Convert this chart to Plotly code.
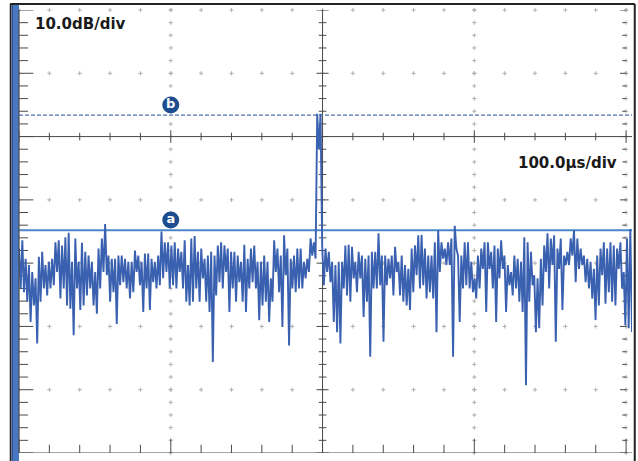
import numpy as np
import plotly.graph_objects as go

# ---------------- data ----------------
t_end_us = 403.9                       # screen spans a sliver past 4 divisions
y_top_db, y_bottom_db = 0.0, -70.0
x_major_us = [0, 100, 200, 300, 400]
y_major_db = [0, -10, -20, -30, -40, -50, -60, -70]
x_minor_step_us = 20
y_minor_step_db = 2

marker_a_db = -34.8
marker_b_db = -16.6
marker_label_t_us = 100
marker_labels = ["a", "b"]

vert_scale_text = "10.0dB/div"
horiz_scale_text = "100.0\u00b5s/div"

trace_q1_db = [
    -37.7, -44.0, -36.4, -44.6, -39.3, -46.1, -40.3, -49.3, -41.4, -46.7,
    -42.4, -52.7, -39.0, -46.1, -38.2, -44.0, -40.3, -45.1, -39.8, -44.0,
    -39.3, -43.5, -36.7, -41.4, -36.4, -45.6, -37.2, -44.0, -35.9, -46.7,
    -35.2, -47.2, -39.8, -51.4, -36.1, -44.0, -39.8, -47.4, -36.8, -46.7,
    -38.2, -45.1, -38.8, -44.0, -39.8, -46.7, -41.4, -48.0, -37.7, -44.0,
    -36.1, -41.4, -33.8, -41.9, -38.8, -46.1, -39.3, -44.6, -39.3, -49.6,
    -38.8, -43.5, -38.8, -43.0, -39.3, -44.0, -39.8, -45.6, -39.8, -44.6,
    -38.0, -41.4, -38.8, -43.5, -39.8, -47.7, -38.5, -44.0, -38.5, -47.4,
    -39.3, -43.0, -39.8, -44.0, -38.8, -43.5, -35.0, -42.4, -36.7, -41.4,
    -36.7, -44.0, -37.2, -43.5,
]
trace_q2_db = [
    -36.7, -44.0, -37.7, -41.4, -38.2, -44.0, -36.4, -46.1, -40.3, -46.7,
    -36.1, -46.1, -35.7, -44.0, -38.2, -46.1, -37.7, -42.4, -39.3, -46.1,
    -38.8, -47.7, -38.2, -55.6, -38.8, -45.1, -37.2, -43.0, -36.7, -44.0,
    -37.2, -41.4, -37.7, -47.7, -38.2, -44.0, -38.2, -46.1, -38.8, -43.0,
    -39.8, -46.1, -37.1, -47.7, -39.3, -44.0, -37.7, -43.0, -37.2, -44.0,
    -39.8, -49.0, -39.8, -46.7, -38.8, -46.1, -39.8, -49.3, -42.4, -46.1,
    -36.4, -41.4, -37.7, -44.6, -38.8, -50.1, -35.6, -41.9, -37.7, -53.0,
    -39.3, -44.0, -38.8, -44.6, -37.7, -44.0, -37.7, -44.0, -39.8, -42.4,
    -39.3, -41.4, -36.1, -38.8, -36.7, -39.3,
]
trace_spike_db = [-16.4, -22.0, -16.4]
trace_q3_db = [
    -37.4, -43.5, -37.7, -41.4, -38.2, -43.0, -39.8, -49.3, -40.3, -50.9,
    -39.8, -52.7, -39.8, -44.0, -37.2, -45.1, -37.1, -46.1, -37.4, -42.4,
    -39.8, -44.6, -38.2, -42.4, -38.8, -48.5, -39.3, -46.1, -38.8, -54.8,
    -38.2, -44.0, -38.2, -44.0, -35.3, -43.5, -38.8, -52.4, -38.8, -43.5,
    -39.3, -42.4, -38.8, -45.1, -37.4, -41.4, -39.8, -45.1, -38.8, -46.1,
    -40.3, -46.7, -40.9, -47.4, -37.7, -44.6, -37.2, -41.9, -35.6, -44.0,
    -35.5, -43.5, -37.7, -45.6, -38.8, -44.6, -38.8, -45.6, -36.7, -50.9,
    -34.8, -41.4, -36.7, -39.3, -37.7, -40.3, -36.7, -40.3, -36.1, -54.8,
    -34.1, -37.7, -38.8, -49.3, -38.8, -44.0, -36.7, -43.5, -36.7, -44.0,
    -39.8, -44.6, -42.4, -45.6,
]
trace_q4_db = [
    -38.8, -44.0, -37.7, -40.9, -36.7, -47.7, -36.7, -40.9, -38.2, -44.0,
    -37.2, -49.3, -37.7, -42.4, -36.4, -40.9, -38.8, -47.7, -40.3, -43.5,
    -41.4, -45.1, -38.8, -44.0, -39.3, -46.1, -39.8, -47.7, -35.9, -59.3,
    -36.7, -46.1, -38.2, -43.5, -41.9, -50.9, -42.4, -50.3, -39.3, -46.7,
    -37.2, -41.4, -35.3, -44.0, -36.1, -40.3, -35.6, -52.4, -37.7, -40.9,
    -36.1, -47.4, -38.8, -40.3, -38.2, -40.3, -36.1, -38.8, -34.8, -43.0,
    -36.1, -40.9, -37.7, -40.3, -38.8, -43.0, -39.3, -44.0, -39.8, -45.6,
    -40.9, -49.0, -38.8, -46.7, -37.7, -41.9, -36.7, -46.4, -37.7, -44.6,
    -36.7, -46.1, -37.2, -46.7, -37.7, -40.9, -36.7, -44.0, -41.4, -49.8,
    -36.1, -50.3, -34.6, -50.9,
]

trace_db = trace_q1_db + trace_q2_db + trace_spike_db + trace_q3_db + trace_q4_db
trace_t_us = np.linspace(0.0, t_end_us, len(trace_db))

# ---------------- styles ----------------
TRACE_COLOR = "#3a60b0"
GRID_COLOR = "#b0b0b0"
AXIS_COLOR = "#4a4a4a"
FONT = "DejaVu Sans"

x_minor = np.arange(0, 400 + 1e-9, x_minor_step_us)
y_minor = np.arange(y_bottom_db, y_top_db + 1e-9, y_minor_step_db)

fig = go.Figure()

# dotted graticule: small crosses along the major lines
cx, cy = [], []
for xm in [100, 300, 400]:
    for yv in y_minor:
        cx.append(xm); cy.append(yv)
for ym in [0, -10, -30, -40, -50, -60]:
    for xv in x_minor:
        cx.append(xv); cy.append(ym)
fig.add_trace(go.Scatter(
    x=cx, y=cy, mode="markers", cliponaxis=False, hoverinfo="skip",
    marker=dict(symbol="cross-thin", size=3, line=dict(width=1, color=GRID_COLOR)),
))

# tick segments on centre lines and on the left / bottom / right edges
tx, ty = [], []
def seg(x0, y0, x1, y1):
    tx.extend([x0, x1, None]); ty.extend([y0, y1, None])

for xv in x_minor:
    major = xv % 100 == 0
    h = 1.0 if major else 0.6
    seg(xv, -20 - h, xv, -20 + h)                    # centre horizontal axis
    seg(xv, y_bottom_db, xv, y_bottom_db + (2.2 if major else 1.3))  # bottom edge
for yv in y_minor:
    major = yv % 10 == 0
    w = 4.0 if major else 2.5
    seg(200 - w, yv, 200 + w, yv)                    # centre vertical axis
    seg(0, yv, 9.5 if major else 6.0, yv)            # left edge
    seg(400 - (4 if major else 2.5), yv, 400, yv)    # right edge
seg(0, -20, t_end_us, -20)
seg(200, y_bottom_db, 200, y_top_db)
seg(0, y_bottom_db, t_end_us, y_bottom_db)
fig.add_trace(go.Scatter(
    x=tx, y=ty, mode="lines", hoverinfo="skip",
    line=dict(color=AXIS_COLOR, width=1),
))

# marker lines
fig.add_trace(go.Scatter(
    x=[0, t_end_us], y=[marker_b_db, marker_b_db], mode="lines", hoverinfo="skip",
    line=dict(color="#4f73ad", width=1.2, dash="4px,2px"),
))
fig.add_trace(go.Scatter(
    x=[0, t_end_us], y=[marker_a_db, marker_a_db], mode="lines", hoverinfo="skip",
    line=dict(color="#4a86c8", width=1.8),
))

# measurement trace
fig.add_trace(go.Scatter(
    x=trace_t_us, y=trace_db, mode="lines", hoverinfo="skip",
    line=dict(color=TRACE_COLOR, width=1.9),
))

# marker badges
fig.add_trace(go.Scatter(
    x=[marker_label_t_us, marker_label_t_us],
    y=[marker_a_db + 1.6, marker_b_db + 1.6],
    mode="markers+text", text=marker_labels, textposition="middle center",
    textfont=dict(family=FONT, size=13, color="white", weight="bold"),
    marker=dict(size=17, color="#1e4d8f", line=dict(width=0)),
    hoverinfo="skip", cliponaxis=False,
))

fig.add_annotation(
    x=0.0228, y=0.968, xref="paper", yref="paper", xanchor="left", yanchor="middle",
    text=f"<b>{vert_scale_text}</b>", showarrow=False,
    font=dict(family=FONT, size=15, color="#1a1a1a"),
)
fig.add_annotation(
    x=0.8108, y=0.655, xref="paper", yref="paper", xanchor="left", yanchor="middle",
    text=f"<b>{horiz_scale_text}</b>", showarrow=False,
    font=dict(family=FONT, size=15, color="#1a1a1a"),
)

# screen frame decorations (paper coordinates)
shapes = [
    dict(type="rect", xref="paper", yref="paper", x0=-0.0114, x1=0.0, y0=-0.03, y1=1.0135,
         fillcolor="#4a78c0", line=dict(width=0), layer="above"),
    dict(type="line", xref="paper", yref="paper", x0=-0.0112, x1=-0.0112, y0=-0.03, y1=1.0135,
         line=dict(color="#2a5090", width=1.5), layer="above"),
    dict(type="line", xref="paper", yref="paper", x0=-0.0139, x1=-0.0139, y0=-0.03, y1=1.0135,
         line=dict(color="#222222", width=1.5), layer="above"),
    dict(type="line", xref="paper", yref="paper", x0=-0.0145, x1=1.0045, y0=1.0135, y1=1.0135,
         line=dict(color="#222222", width=2), layer="above"),
    dict(type="line", xref="paper", yref="paper", x0=1.0045, x1=1.0045, y0=-0.03, y1=1.0135,
         line=dict(color="#222222", width=2), layer="above"),
    dict(type="line", xref="paper", yref="paper", x0=0.0, x1=0.0, y0=0.0, y1=1.0,
         line=dict(color=AXIS_COLOR, width=1.2), layer="above"),
]

fig.update_layout(
    width=638, height=461,
    margin=dict(l=19, r=6, t=10, b=8, pad=0),
    paper_bgcolor="white", plot_bgcolor="white",
    showlegend=False, shapes=shapes,
    xaxis=dict(range=[0, t_end_us], visible=False, fixedrange=True),
    yaxis=dict(range=[y_bottom_db, y_top_db], visible=False, fixedrange=True),
)

fig.write_html(
    "out.html",
    config={"displayModeBar": False},
    post_script="document.body.style.margin='0';document.body.style.overflow='hidden';",
)
